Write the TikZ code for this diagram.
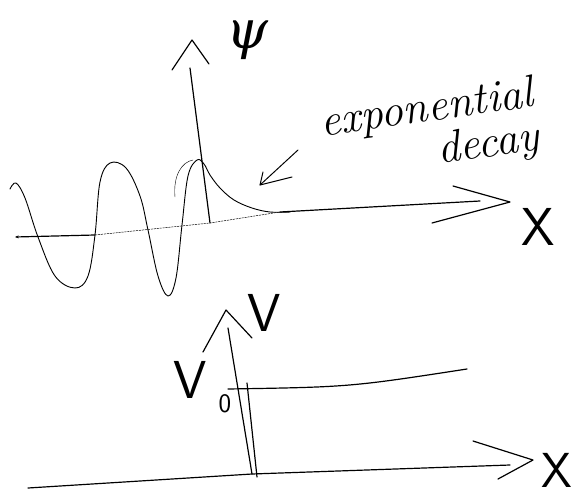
\documentclass[tikz,border=0pt]{standalone}
\usepackage{fontspec}
\usepackage{tikz}
\usetikzlibrary{arrows.meta,positioning}
\newfontfamily\grkfont{DejaVu Serif}

\begin{document}
\begin{tikzpicture}[
    x=0.05cm, y=-0.05cm,
    ax/.style={line width=1.7pt, line cap=round, line join=round},
    wave/.style={line width=1.3pt, line cap=round, line join=round},
    faint/.style={line width=0.7pt, dash pattern=on 3pt off 1.2pt},
    lbl/.style={inner sep=0pt, font=\fontsize{76}{76}\selectfont\sffamily},
    note/.style={inner sep=0pt, align=right, font=\fontsize{64}{62}\selectfont\itshape}
]
\useasboundingbox (0,0) rectangle (580,499);

% upper sketch: psi against x
\coordinate (xL) at (15,237);
\coordinate (xA) at (95,235);
\coordinate (x0) at (210,223);
\coordinate (xB) at (280,212);
\coordinate (xR) at (480,201);
\coordinate (xTip) at (510,202);
\coordinate (xWu) at (453,186);
\coordinate (xWd) at (432,223);
\coordinate (psiTop) at (190,68);
\coordinate (psiTip) at (192,40);
\coordinate (psiWl) at (172,70);
\coordinate (psiWr) at (209,64);

\draw[ax, -{Stealth[length=5pt,width=4pt]}] (xA) -- (xL);
\draw[faint] (xA) -- (x0) -- (xB);
\draw[ax] (xB) -- (xR);
\draw[ax] (xWu) -- (xTip) -- (xWd);
\draw[ax] (x0) -- (psiTop);
\draw[ax] (psiWl) -- (psiTip) -- (psiWr);

\node[lbl, font=\fontsize{76}{76}\selectfont\grkfont\itshape] (psi) at (247,40) {ψ};
\node[lbl] (xup) at (538,227) {X};

\draw[wave] plot[smooth, tension=0.6] coordinates {
    (10,189) (16,183) (25,198) (38,237) (55,276) (75,288) (88,276) (95,235)
    (100,182) (110,163) (126,168) (140,196) (148,230) (158,276) (168,296)
    (176,278) (182,225) (188,176) (197,160) (204,164) (210,175) (220,188)
    (234,200) (252,208) (270,212) (290,212)};
\draw[line width=0.6pt] (175,197) .. controls (173,175) and (182,162) .. (193,160);

% label for the tail
\coordinate (noteA) at (298,150);
\coordinate (noteB) at (260,185);
\coordinate (noteW1) at (263,172);
\coordinate (noteW2) at (292,177);
\draw[ax, line width=1.4pt] (noteA) -- (noteB);
\draw[ax, line width=1.4pt] (noteW1) -- (noteB) -- (noteW2);
\node[note, rotate=8] (expo) at (430,132) {exponential\\decay};

% lower sketch: step potential
\coordinate (uL) at (28,488);
\coordinate (u0) at (252,474);
\coordinate (uR) at (510,465);
\coordinate (uTip) at (533,460);
\coordinate (uWu) at (473,441);
\coordinate (uWd) at (498,479);
\coordinate (vTop) at (228,328);
\coordinate (vTip) at (226,310);
\coordinate (vWl) at (203,352);
\coordinate (vWr) at (252,338);
\coordinate (stepTop) at (247,383);
\coordinate (stepFoot) at (257,477);
\coordinate (lvL) at (228,389);
\coordinate (lvM) at (350,387);
\coordinate (lvR) at (467,369);

\draw[ax] (uL) -- (u0) -- (uR);
\draw[ax] (uWu) -- (uTip) -- (uWd);
\draw[ax] (vTop) -- (u0);
\draw[ax] (stepTop) -- (stepFoot);
\draw[ax] (vWl) -- (vTip) -- (vWr);
\draw[ax] (lvL) .. controls (lvM) .. (lvR);

\node[lbl] (vup) at (264,313) {V};
\node[lbl] (vnull) at (190,380) {V};
\node[lbl, font=\fontsize{38}{38}\selectfont\sffamily] (vsub) at (225,404) {0};
\node[lbl, font=\fontsize{70}{70}\selectfont\sffamily] (xlow) at (557,470) {X};
\end{tikzpicture}
\end{document}
